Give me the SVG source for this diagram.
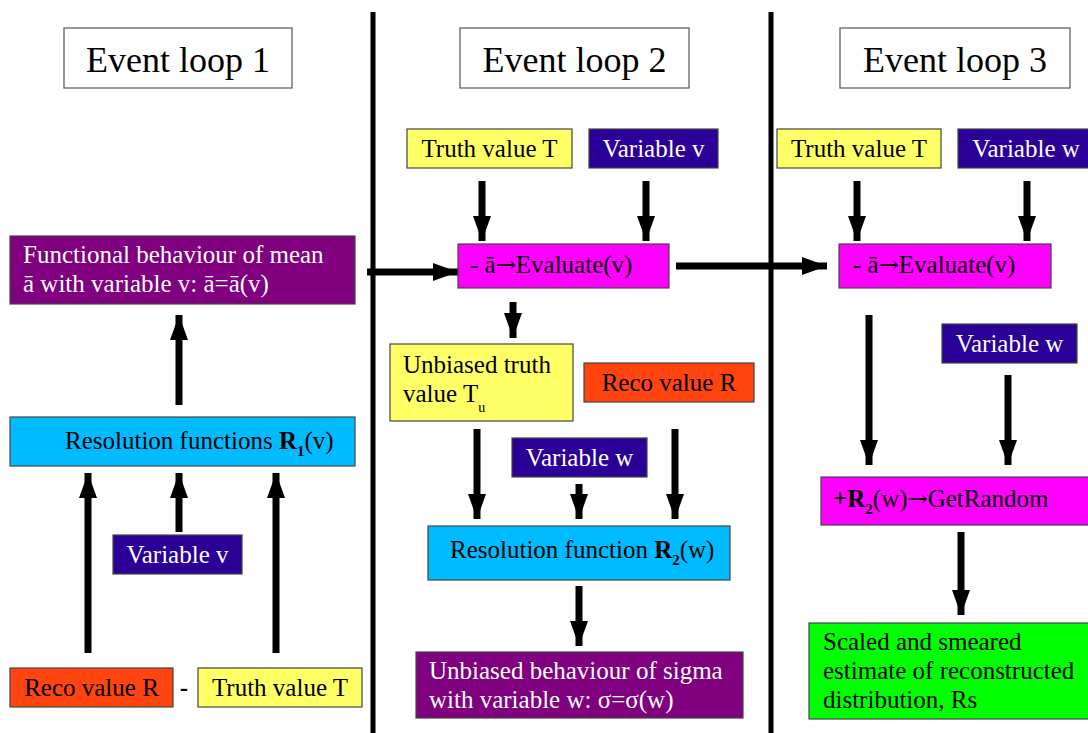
<svg xmlns="http://www.w3.org/2000/svg" width="1088" height="733" viewBox="0 0 1088 733">
<defs>
<marker id="ah" viewBox="0 0 25 18" markerWidth="25" markerHeight="18" markerUnits="userSpaceOnUse" refX="25" refY="9" orient="auto">
<path d="M0,0 L25,9 L0,18 z" fill="#000"/>
</marker>
<style>
text{font-family:"Liberation Serif","Times New Roman",serif;font-size:25px;fill:#000}
.w{fill:#fff}
.title{font-size:36px}
.c{text-anchor:middle}
.b{font-weight:bold}
.ar{font-family:"DejaVu Serif",serif;font-size:24px}
.box{stroke:#444;stroke-width:1.2}
.tb{fill:#fff;stroke:#555;stroke-width:1.2}
.purple{fill:#800080}
.cyan{fill:#00bbff}
.indigo{fill:#2a0096}
.reco{fill:#ff4410}
.yellow{fill:#ffff66}
.mag{fill:#ff00ff}
.green{fill:#00ff00}
.arr{stroke:#000;stroke-width:7;fill:none;marker-end:url(#ah)}
.sep{stroke:#000;stroke-width:5}
</style>
</defs>
<rect width="1088" height="733" fill="#fff"/>

<g id="separators">
<line class="sep" x1="373" y1="12" x2="373" y2="733"/>
<line class="sep" x1="771" y1="12" x2="771" y2="733"/>
</g>

<g id="title1"><rect class="tb" x="64" y="28" width="228" height="60"/><text class="title c" x="178" y="72">Event loop 1</text></g>
<g id="title2"><rect class="tb" x="460" y="28" width="229" height="60"/><text class="title c" x="574.5" y="72">Event loop 2</text></g>
<g id="title3"><rect class="tb" x="840" y="28" width="230" height="60"/><text class="title c" x="955" y="72">Event loop 3</text></g>

<g id="connectors">
<line class="arr" x1="179" y1="405" x2="179" y2="315"/>
<line class="arr" x1="88" y1="653" x2="88" y2="473"/>
<line class="arr" x1="179" y1="532" x2="179" y2="473"/>
<line class="arr" x1="276" y1="653" x2="276" y2="473"/>
<line class="arr" x1="367" y1="272" x2="458" y2="272"/>
<line class="arr" x1="482" y1="181" x2="482" y2="241"/>
<line class="arr" x1="646" y1="181" x2="646" y2="241"/>
<line class="arr" x1="513" y1="302" x2="513" y2="338"/>
<line class="arr" x1="477" y1="429" x2="477" y2="519"/>
<line class="arr" x1="579" y1="484" x2="579" y2="519"/>
<line class="arr" x1="675" y1="429" x2="675" y2="519"/>
<line class="arr" x1="579" y1="586" x2="579" y2="646"/>
<line class="arr" x1="676" y1="266" x2="827" y2="266"/>
<line class="arr" x1="857" y1="181" x2="857" y2="241"/>
<line class="arr" x1="1027" y1="181" x2="1027" y2="241"/>
<line class="arr" x1="869" y1="315" x2="869" y2="465"/>
<line class="arr" x1="1008" y1="375" x2="1008" y2="465"/>
<line class="arr" x1="961" y1="532" x2="961" y2="615"/>
</g>

<!-- Event loop 1 -->
<g id="mean1">
<rect class="box purple" x="10" y="236" width="345" height="68"/>
<text class="w" x="23" y="263">Functional behaviour of mean</text>
<text class="w" x="23" y="292">ā with variable v: ā=ā(v)</text>
</g>
<g id="res1">
<rect class="box cyan" x="10" y="417" width="345" height="49"/>
<text x="65" y="449">Resolution functions <tspan class="b">R</tspan><tspan class="b" font-size="15" dy="7">1</tspan><tspan dy="-7">(v)</tspan></text>
</g>
<g id="varv1">
<rect class="box indigo" x="113" y="535" width="129" height="39"/>
<text class="w c" x="177.5" y="563">Variable v</text>
</g>
<g id="reco1">
<rect class="box reco" x="10" y="668" width="163" height="39"/>
<text class="c" x="91.5" y="696">Reco value R</text>
</g>
<g id="minus1"><text class="c b" x="184" y="696">-</text></g>
<g id="truth1">
<rect class="box yellow" x="198" y="668" width="164" height="39"/>
<text class="c" x="280" y="696">Truth value T</text>
</g>

<!-- Event loop 2 -->
<g id="truth2">
<rect class="box yellow" x="407" y="129" width="165" height="39"/>
<text class="c" x="489.5" y="157">Truth value T</text>
</g>
<g id="varv2">
<rect class="box indigo" x="589" y="129" width="129" height="39"/>
<text class="w c" x="653.5" y="157">Variable v</text>
</g>
<g id="eval2">
<rect class="box mag" x="458" y="244" width="211" height="44"/>
<text x="470" y="273">- ā<tspan class="ar">→</tspan>Evaluate(v)</text>
</g>
<g id="tu2">
<rect class="box yellow" x="390" y="344" width="183" height="77"/>
<text x="403" y="373">Unbiased truth</text>
<text x="403" y="402">value T<tspan font-size="14" dy="10">u</tspan></text>
</g>
<g id="reco2">
<rect class="box reco" x="584" y="363" width="170" height="39"/>
<text class="c" x="669" y="391">Reco value R</text>
</g>
<g id="varw2">
<rect class="box indigo" x="512" y="438" width="135" height="39"/>
<text class="w c" x="579.5" y="466">Variable w</text>
</g>
<g id="res2">
<rect class="box cyan" x="428" y="526" width="302" height="54"/>
<text x="450" y="558">Resolution function <tspan class="b">R</tspan><tspan class="b" font-size="15" dy="7">2</tspan><tspan dy="-7">(w)</tspan></text>
</g>
<g id="sigma2">
<rect class="box purple" x="416" y="652" width="327" height="66"/>
<text class="w" x="429" y="679">Unbiased behaviour of sigma</text>
<text class="w" x="429" y="708">with variable w: σ=σ(w)</text>
</g>

<!-- Event loop 3 -->
<g id="truth3">
<rect class="box yellow" x="777" y="129" width="164" height="39"/>
<text class="c" x="859" y="157">Truth value T</text>
</g>
<g id="varw3a">
<rect class="box indigo" x="958" y="129" width="136" height="39"/>
<text class="w c" x="1026" y="157">Variable w</text>
</g>
<g id="eval3">
<rect class="box mag" x="839" y="244" width="212" height="44"/>
<text x="853" y="273">- ā<tspan class="ar">→</tspan>Evaluate(v)</text>
</g>
<g id="varw3b">
<rect class="box indigo" x="942" y="324" width="135" height="39"/>
<text class="w c" x="1009.5" y="352">Variable w</text>
</g>
<g id="rand3">
<rect class="box mag" x="821" y="477" width="272" height="48"/>
<text x="833" y="507"><tspan class="b">+R</tspan><tspan class="b" font-size="15" dy="7">2</tspan><tspan dy="-7">(w)</tspan><tspan class="ar">→</tspan>GetRandom</text>
</g>
<g id="result3">
<rect class="box green" x="809" y="623" width="284" height="96"/>
<text x="823" y="650">Scaled and smeared</text>
<text x="823" y="679">estimate of reconstructed</text>
<text x="823" y="708">distribution, Rs</text>
</g>
</svg>
